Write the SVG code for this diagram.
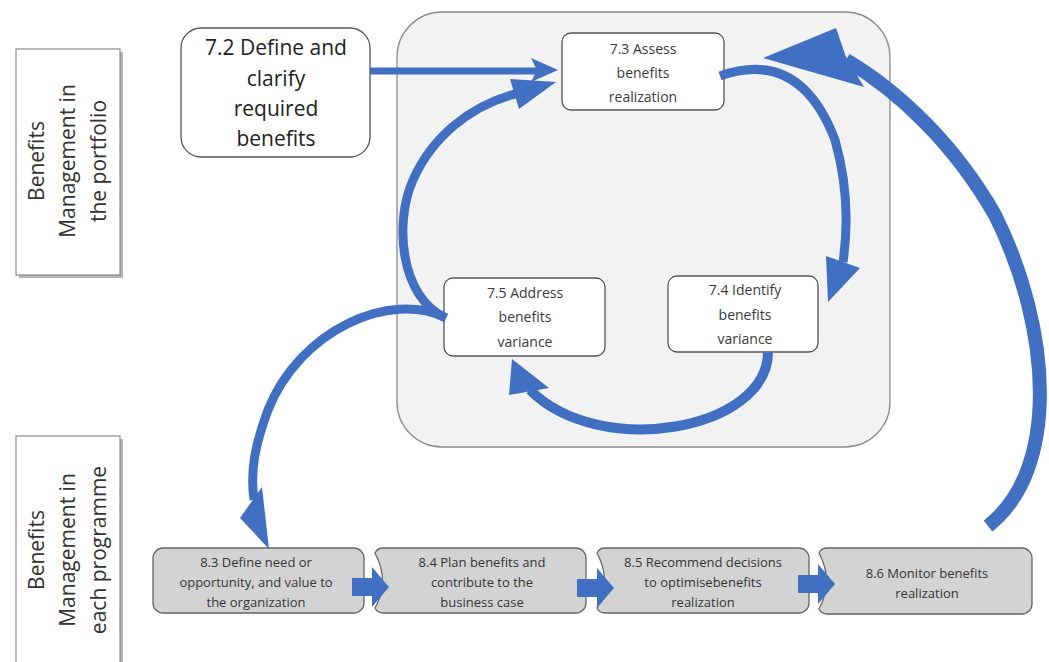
<svg xmlns="http://www.w3.org/2000/svg" width="1049" height="662" viewBox="0 0 1049 662">
<style>
.lbl{fill:#fff;stroke:#8a8a8a;stroke-width:1.2}
.shd{fill:#b5b5b5}
.lt{font-family:"Open Sans","Liberation Sans",sans-serif;font-size:21px;fill:#333;text-anchor:middle}
.big{font-family:"Open Sans","Liberation Sans",sans-serif;font-size:21px;fill:#222;text-anchor:middle}
.mid{font-family:"Open Sans","Liberation Sans",sans-serif;font-size:14px;fill:#3a3a3a;text-anchor:middle}
.sm{font-family:"Open Sans","Liberation Sans",sans-serif;font-size:13px;fill:#333;text-anchor:middle}
.wbox{fill:#fff;stroke:#555;stroke-width:1.3}
.gbox{fill:#d3d3d3;stroke:#666;stroke-width:1.3}
.arc{fill:none;stroke:#4170c2;stroke-linecap:butt}
.hd{fill:#4170c2}
</style>
<rect x="0" y="0" width="1049" height="662" fill="#fff"/>

<g id="lane-portfolio">
<rect class="shd" x="19" y="52" width="104" height="226"/>
<rect class="lbl" x="16" y="49" width="104" height="226"/>
<g transform="translate(68,161) rotate(-90)">
<text class="lt" x="0" y="-24">Benefits</text>
<text class="lt" x="0" y="7">Management in</text>
<text class="lt" x="0" y="38">the portfolio</text>
</g>
</g>

<g id="lane-programme">
<rect class="shd" x="19" y="439" width="104" height="230"/>
<rect class="lbl" x="16" y="436" width="104" height="230"/>
<g transform="translate(68,550) rotate(-90)">
<text class="lt" x="0" y="-24">Benefits</text>
<text class="lt" x="0" y="7">Management in</text>
<text class="lt" x="0" y="38">each programme</text>
</g>
</g>

<g id="portfolio-cycle">
<rect x="397" y="12" width="493" height="435" rx="45" ry="45" fill="#f2f2f2" stroke="#8c8c8c" stroke-width="1.3"/>
</g>

<g id="n72">
<rect class="wbox" x="181" y="28" width="189" height="129" rx="20" ry="20"/>
<text class="big" x="276" y="55">7.2 Define and</text>
<text class="big" x="276" y="86">clarify</text>
<text class="big" x="276" y="116">required</text>
<text class="big" x="276" y="146">benefits</text>
</g>

<g id="n73">
<rect class="wbox" x="562" y="33" width="162" height="77" rx="9" ry="9"/>
<text class="mid" x="643" y="54">7.3 Assess</text>
<text class="mid" x="643" y="78">benefits</text>
<text class="mid" x="643" y="102">realization</text>
</g>

<g id="n74">
<rect class="wbox" x="668" y="276" width="150" height="76" rx="9" ry="9"/>
<text class="mid" x="745" y="295">7.4 Identify</text>
<text class="mid" x="745" y="320">benefits</text>
<text class="mid" x="745" y="344">variance</text>
</g>

<g id="n75">
<rect class="wbox" x="444" y="278" width="161" height="78" rx="9" ry="9"/>
<text class="mid" x="525" y="298">7.5 Address</text>
<text class="mid" x="525" y="322">benefits</text>
<text class="mid" x="525" y="347">variance</text>
</g>

<g id="n83">
<rect class="gbox" x="153" y="548" width="211" height="65" rx="10" ry="10"/>
<text class="sm" x="256" y="567">8.3 Define need or</text>
<text class="sm" x="256" y="587">opportunity, and value to</text>
<text class="sm" x="256" y="607">the organization</text>
</g>

<g id="n84">
<path class="gbox" d="M383 548 H576 A10 10 0 0 1 586 558 V603 A10 10 0 0 1 576 613 H383 A9 9 0 0 1 375 608 Q390 581 375 553 A9 9 0 0 1 383 548 Z"/>
<text class="sm" x="482" y="567">8.4 Plan benefits and</text>
<text class="sm" x="482" y="587">contribute to the</text>
<text class="sm" x="482" y="607">business case</text>
</g>

<g id="n85">
<path class="gbox" d="M605 548 H799 A10 10 0 0 1 809 558 V603 A10 10 0 0 1 799 613 H605 A9 9 0 0 1 597 608 Q612 581 597 553 A9 9 0 0 1 605 548 Z"/>
<text class="sm" x="703" y="567">8.5 Recommend decisions</text>
<text class="sm" x="703" y="587">to optimisebenefits</text>
<text class="sm" x="703" y="607">realization</text>
</g>

<g id="n86">
<path class="gbox" d="M827 548 H1022 A10 10 0 0 1 1032 558 V604 A10 10 0 0 1 1022 614 H827 A9 9 0 0 1 819 609 Q834 581 819 553 A9 9 0 0 1 827 548 Z"/>
<text class="sm" x="927" y="578">8.6 Monitor benefits</text>
<text class="sm" x="927" y="598">realization</text>
</g>

<g id="connectors">
<path class="arc" d="M370 71 H540" stroke-width="7"/>
<polygon class="hd" points="558,70 531,58 537,70 531,82"/>
<path class="arc" d="M446 318 C400 298 394 222 413 180 C432 137 470 106 515 94" stroke-width="9"/>
<polygon class="hd" points="556,82 510,79 519,109"/>
<path class="arc" d="M720 76 Q800 48 835 140 Q852 200 843 262" stroke-width="9"/>
<polygon class="hd" points="828,302 826,256 860,268"/>
<path class="arc" d="M768 352 C768 430 600 460 530 390" stroke-width="10"/>
<polygon class="hd" points="512,359 509,395 549,388"/>
<path class="arc" d="M446 318 C390 290 300 330 268 410 C255 445 250 470 254 500" stroke-width="9"/>
<polygon class="hd" points="262,487 240,518 269,549"/>
<path class="arc" d="M988 526 C1060 470 1052 330 995 215 C955 145 900 92 846 60" stroke-width="14"/>
<polygon class="hd" points="763,58 836,28 846,57 864,87"/>
<polygon class="hd" points="352,578 372,578 372,567 389,587 372,607 372,596 352,596"/>
<polygon class="hd" points="577,579 597,579 597,568 614,588 597,608 597,597 577,597"/>
<polygon class="hd" points="798,575 818,575 818,564 835,584 818,604 818,593 798,593"/>
</g>
</svg>
